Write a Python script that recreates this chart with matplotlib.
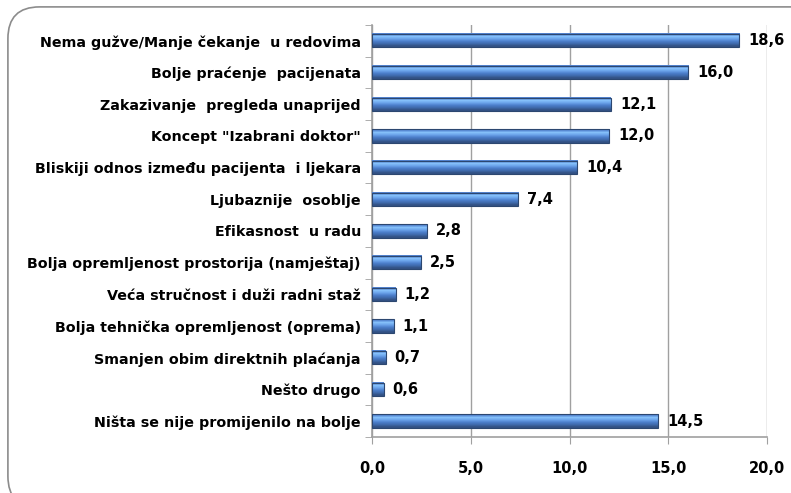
import numpy as np
import matplotlib.pyplot as plt
from matplotlib.patches import FancyBboxPatch
from matplotlib import font_manager as fm

categories = [
    "Nema gužve/Manje čekanje  u redovima",
    "Bolje praćenje  pacijenata",
    "Zakazivanje  pregleda unaprijed",
    "Koncept \"Izabrani doktor\"",
    "Bliskiji odnos između pacijenta  i ljekara",
    "Ljubaznije  osoblje",
    "Efikasnost  u radu",
    "Bolja opremljenost prostorija (namještaj)",
    "Veća stručnost i duži radni staž",
    "Bolja tehnička opremljenost (oprema)",
    "Smanjen obim direktnih plaćanja",
    "Nešto drugo",
    "Ništa se nije promijenilo na bolje",
]
values = [18.6, 16.0, 12.1, 12.0, 10.4, 7.4, 2.8, 2.5, 1.2, 1.1, 0.7, 0.6, 14.5]
xticks = [0, 5, 10, 15, 20]

names = {f.name for f in fm.fontManager.ttflist}
font = "Liberation Sans Narrow" if "Liberation Sans Narrow" in names else "DejaVu Sans"
plt.rcParams["font.family"] = font

fig = plt.figure(figsize=(7.91, 4.93), dpi=100)
frame = FancyBboxPatch((0.010, -0.03), 1.1, 1.016, boxstyle="round,pad=0,rounding_size=0.04",
                       transform=fig.transFigure, facecolor="none", edgecolor="#8c8c8c",
                       linewidth=1.2, mutation_aspect=791 / 493)
fig.patches.append(frame)

ax = fig.add_axes([0.4703, 0.1136, 0.4994, 0.8357])
ax.set_facecolor("none")

# gradient for the 3D-like bars (top -> bottom)
grad_cols = np.array([
    [0.33, 0.52, 0.82], [0.52, 0.75, 0.98], [0.42, 0.64, 0.92],
    [0.30, 0.50, 0.80], [0.25, 0.42, 0.68], [0.20, 0.32, 0.52],
])
grad = grad_cols[:, None, :]
h = 0.42
ypos = np.arange(len(categories))
for y, v in zip(ypos, values):
    ax.imshow(grad, extent=(0, v, y + h / 2, y - h / 2), aspect="auto",
              interpolation="bilinear", zorder=3)
    ax.barh(y, v, height=h, facecolor="none", edgecolor="#2c4770", linewidth=0.8, zorder=4)
    ax.text(v + 0.45, y, f"{v:.1f}".replace(".", ","), va="center", ha="left",
            fontsize=10.5, fontweight="bold", color="black", zorder=5)
ax.set_xlim(0, 20)
ax.set_ylim(12.5, -0.5)

ax.set_xticks(xticks)
ax.set_xticklabels([f"{t:.1f}".replace(".", ",") for t in xticks], fontsize=10.5, fontweight="bold")
ax.xaxis.grid(True, color="#a0a0a0", linewidth=1.0, zorder=0)
ax.set_axisbelow(True)
ax.tick_params(axis="x", length=5, color="#a0a0a0", pad=12)

ax.set_yticks(ypos)
ax.set_yticklabels(categories, fontsize=10.3, fontweight="bold")
ax.tick_params(axis="y", length=0, pad=8)
ax.set_yticks(np.arange(-0.5, 13, 1), minor=True)
ax.tick_params(axis="y", which="minor", length=5, color="#a0a0a0")

for s in ["top", "right"]:
    ax.spines[s].set_visible(False)
for s in ["left", "bottom"]:
    ax.spines[s].set_color("#a0a0a0")
    ax.spines[s].set_linewidth(1.2)

fig.savefig("out.png", dpi=100)
